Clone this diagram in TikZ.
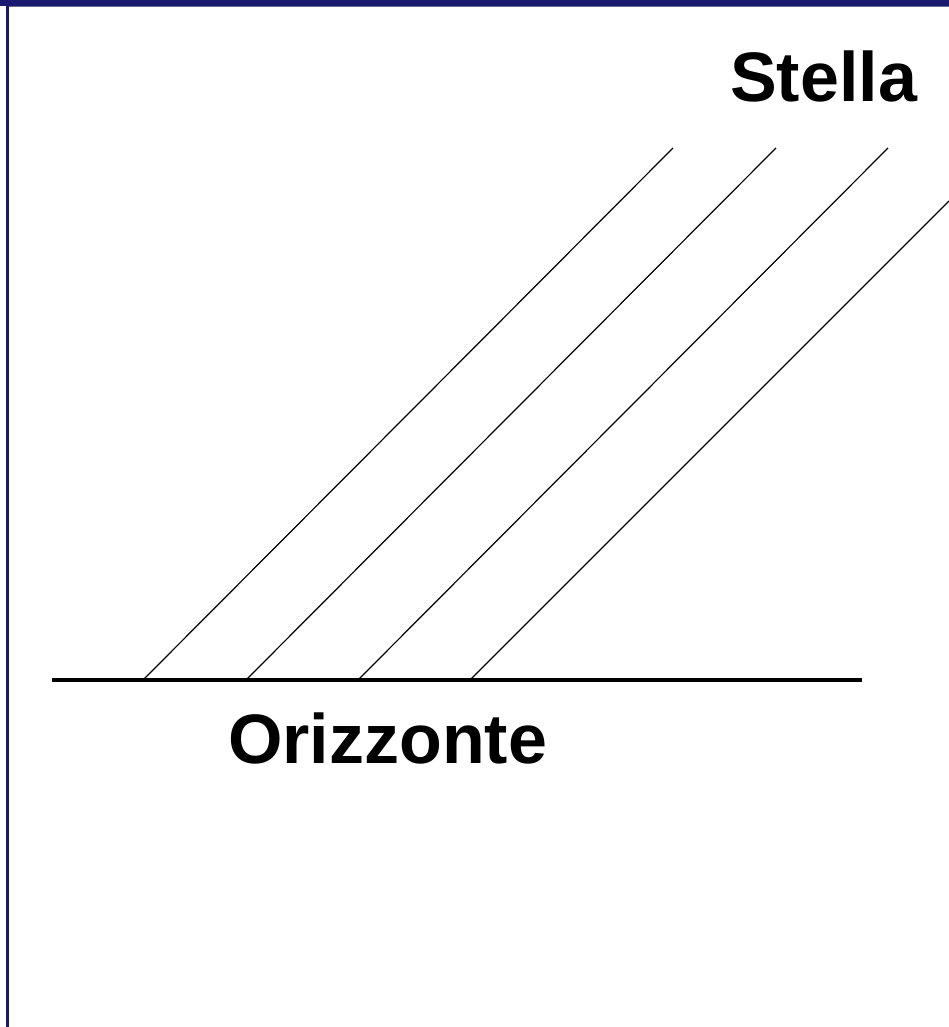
\documentclass[tikz,border=0pt]{standalone}
\usepackage{fontspec}
\setmainfont{Liberation Sans}
\usetikzlibrary{positioning}
\definecolor{navy}{HTML}{191970}
\definecolor{frame}{HTML}{6a6a8a}

\begin{document}
\begin{tikzpicture}[x=1pt,y=-1pt,
   lbl/.style={inner sep=0pt,anchor=base west,font=\fontsize{70}{70}\selectfont\bfseries},
   ray/.style={line width=1.2pt,black},
   hor/.style={line width=4pt,black}]
  \useasboundingbox[fill=white] (0,0) rectangle (949,1027);
  % frame
  \fill[navy] (0,0) rectangle (949,6);
  \fill[navy] (6,6) rectangle (9,1027);
  \draw[frame,line width=0.6pt] (9,6.3) -- (949,6.3);
  % horizon and light rays
  \coordinate (h0) at (52,680);
  \coordinate (h1) at (862,680);
  \coordinate (a1) at (143,680); \coordinate (b1) at (673,148);
  \coordinate (a2) at (246,680); \coordinate (b2) at (776,148);
  \coordinate (a3) at (358,680); \coordinate (b3) at (888,148);
  \coordinate (a4) at (470,680); \coordinate (b4) at (949,201);
  \foreach \i in {1,...,4}
    \draw[ray] (a\i) -- (b\i);
  \draw[hor] (h0) -- (h1);
  \node[lbl] (stella) at (730,102) {Stella};
  \node[lbl] (oriz) at (228,763) {Orizzonte};
\end{tikzpicture}
\end{document}
